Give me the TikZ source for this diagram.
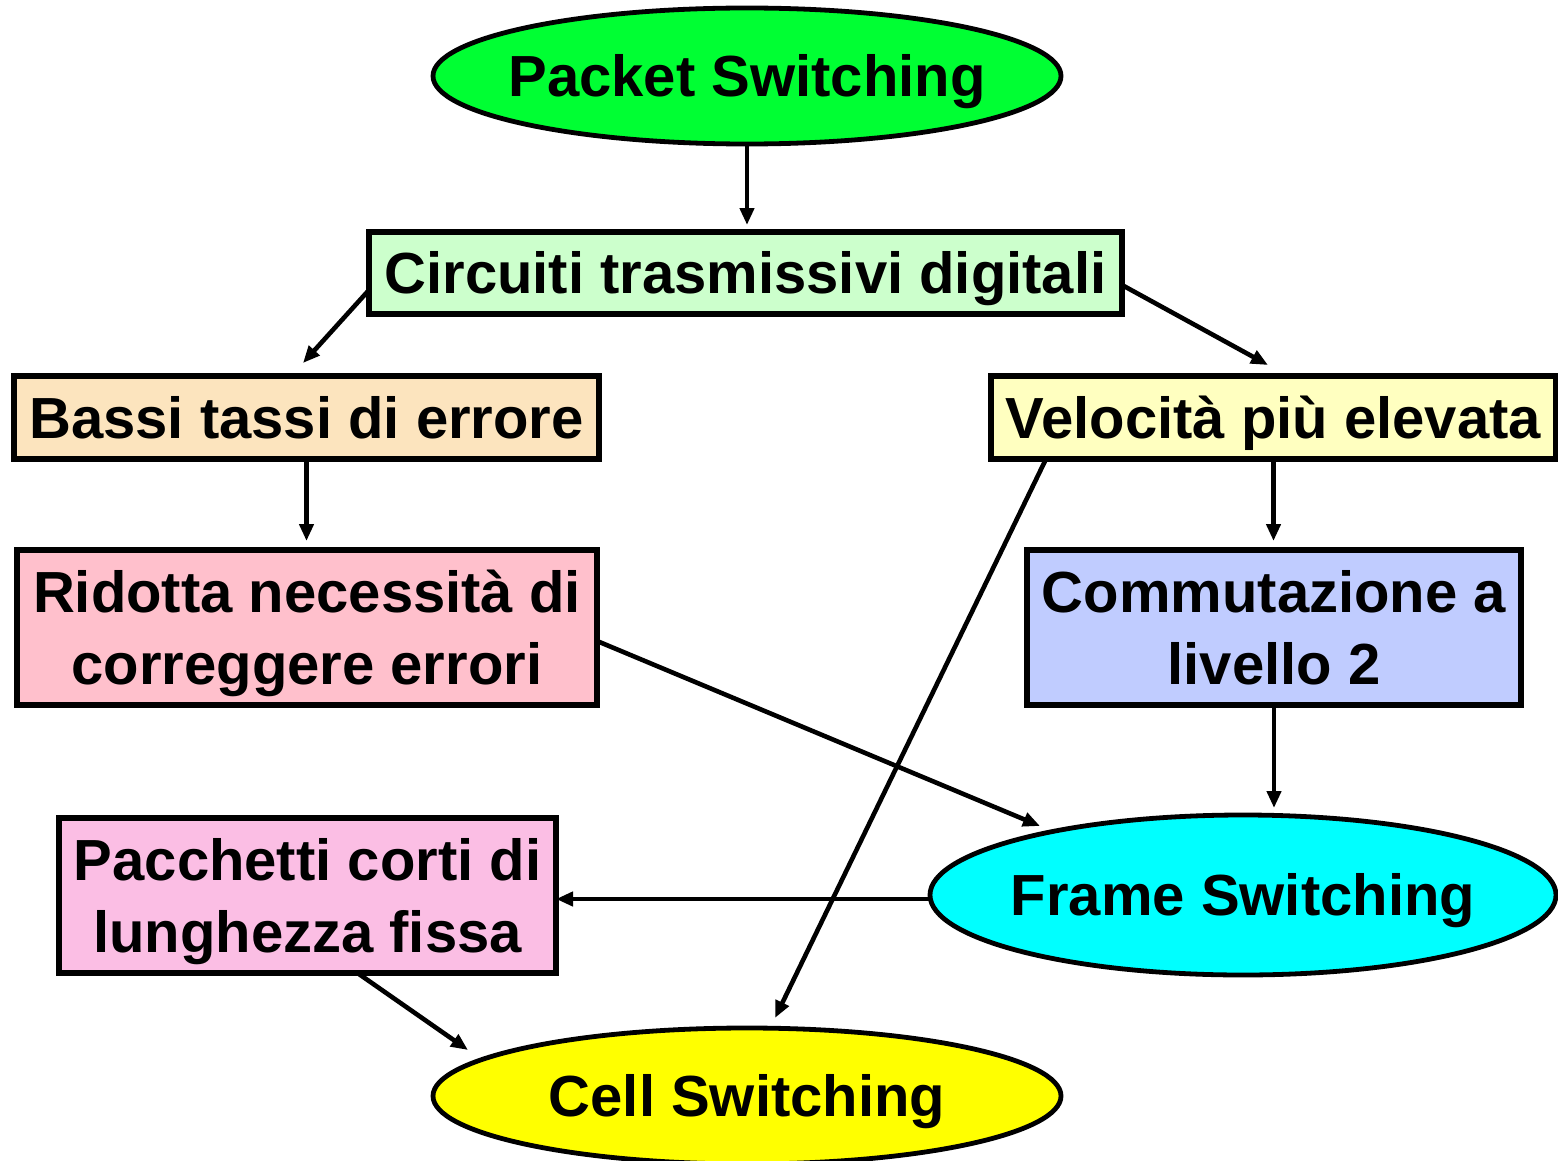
\documentclass[tikz,border=0pt]{standalone}
\usepackage{fontspec}
\setmainfont{Liberation Sans}
\usetikzlibrary{shapes.geometric,arrows.meta}
\definecolor{cPacket}{RGB}{0,255,51}
\definecolor{cCirc}{RGB}{204,255,204}
\definecolor{cBassi}{RGB}{252,228,190}
\definecolor{cVel}{RGB}{255,255,192}
\definecolor{cRid}{RGB}{255,192,204}
\definecolor{cComm}{RGB}{192,204,255}
\definecolor{cPacc}{RGB}{251,190,228}
\definecolor{cFrame}{RGB}{0,255,255}
\definecolor{cCell}{RGB}{255,255,0}
\begin{document}
\begin{tikzpicture}[x=0.5pt,y=-0.5pt,
  every node/.style={font=\fontsize{29pt}{36pt}\selectfont\bfseries, inner sep=0pt, outer sep=0pt, text height=20.8pt, text depth=0pt},
  box/.style={draw, line width=2.7pt, rectangle, align=center},
  twoline/.style={text height=56.8pt, text depth=0pt},
  oval/.style={draw, line width=2.4pt, ellipse},
  arr/.style={-{Triangle[length=8.5pt,width=7pt]}, line width=2.3pt}]
\useasboundingbox (0,0) rectangle (1558,1161);

\node[oval, fill=cPacket, minimum width=314pt, minimum height=68pt] (ps) at (747,76) {\makebox[0pt]{Packet Switching}};
\node[box, fill=cCirc, minimum width=376.5pt, minimum height=41pt] (ci) at (745.5,273) {Circuiti trasmissivi digitali};
\node[box, fill=cBassi, minimum width=292.5pt, minimum height=41.5pt] (ba) at (306.5,417.5) {Bassi tassi di errore};
\node[box, fill=cVel, minimum width=282.5pt, minimum height=41.5pt] (ve) at (1273.5,417.5) {Velocità più elevata};
\node[box, twoline, fill=cRid, minimum width=290pt, minimum height=77.5pt] (ri) at (307,627.5) {Ridotta necessità di\\correggere errori};
\node[box, twoline, fill=cComm, minimum width=247pt, minimum height=77.5pt] (co) at (1274,627.5) {Commutazione a\\livello 2};
\node[box, twoline, fill=cPacc, minimum width=248.5pt, minimum height=77.5pt] (pc) at (307.5,895.5) {Pacchetti corti di\\lunghezza fissa};
\node[oval, fill=cFrame, minimum width=313pt, minimum height=80pt] (fs) at (1243,895) {\makebox[0pt]{Frame Switching}};
\node[oval, fill=cCell, minimum width=314pt, minimum height=68pt] (cs) at (747,1096) {\makebox[0pt]{Cell Switching}};

\draw[arr, shorten >=3.5pt] (ps.south) -- (ps.south |- ci.north);
\draw[arr] ([yshift=-8.5pt]ci.west) -- ([xshift=-1.75pt,yshift=6.5pt]ba.north);
\draw[arr] ([yshift=-6pt]ci.east) -- ([xshift=-2.75pt,yshift=5.5pt]ve.north);
\draw[arr, shorten >=4.5pt] (ba.south) -- (ba.south |- ri.north);
\draw[arr, shorten >=4.5pt] (ve.south) -- (ve.south |- co.north);
\draw[arr] ([xshift=27.5pt]ve.south west) -- ([xshift=14pt,yshift=5pt]cs.north);
\draw[arr] ([yshift=-6.75pt]ri.east) -- ([xshift=-101.5pt,yshift=34.5pt]fs.center);
\draw[arr, shorten >=3.5pt] (co.south) -- (co.south |- fs.north);
\draw[arr] ([yshift=-2pt]fs.west) -- ([yshift=-2pt]fs.west -| pc.east);
\draw[arr] ([xshift=25pt]pc.south) -- ([xshift=-139.5pt,yshift=23pt]cs.center);
\end{tikzpicture}
\end{document}
